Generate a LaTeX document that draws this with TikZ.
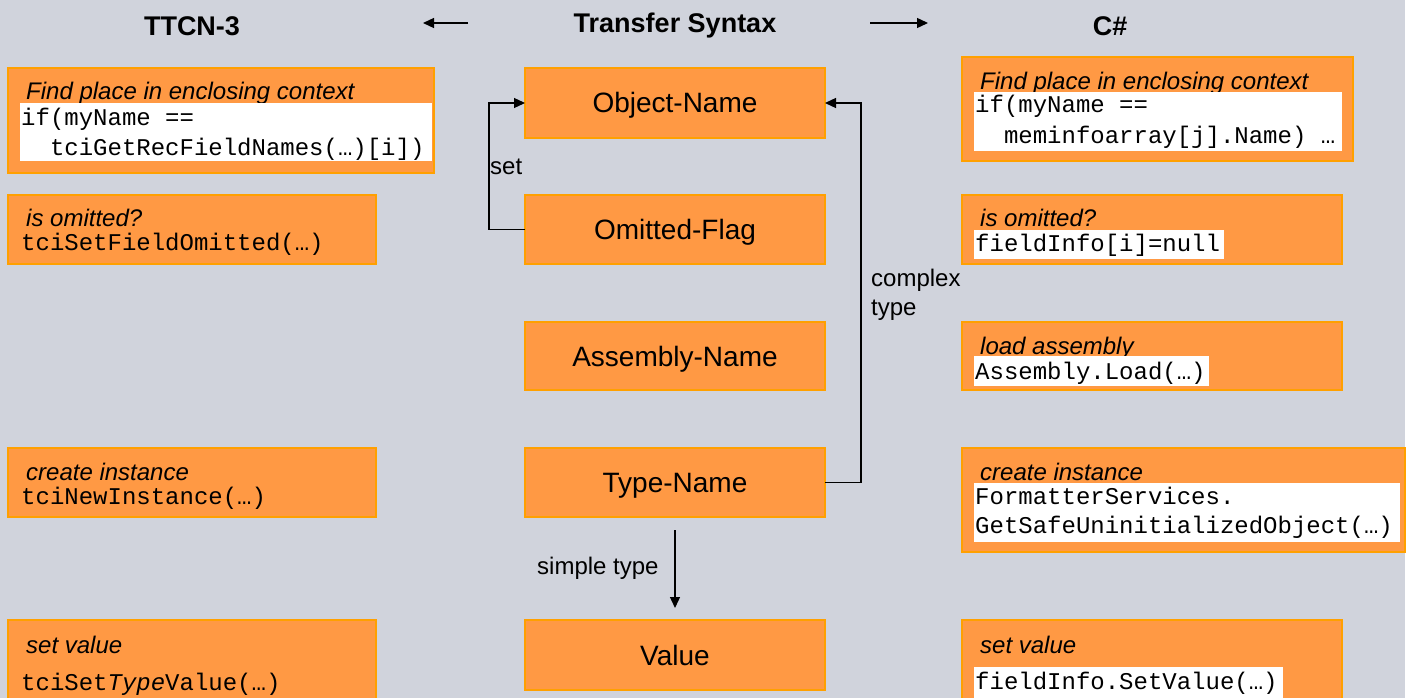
\documentclass[tikz,border=0pt]{standalone}
\usepackage{fontspec}
\setmainfont{Liberation Sans}
\setmonofont{Liberation Mono}
\usetikzlibrary{arrows.meta}
\definecolor{bg}{RGB}{208,211,220}
\definecolor{ofill}{RGB}{255,153,68}
\definecolor{oline}{RGB}{255,160,0}
\tikzset{
 obox/.style={draw=oline, line width=1.2pt, fill=ofill, anchor=north west, inner sep=0pt, outer sep=0pt},
 wbox/.style={fill=white, draw=none, anchor=north west, inner sep=0pt, outer sep=0pt},
 lab/.style={anchor=base west, inner sep=0pt, font=\fontsize{24}{29}\selectfont\itshape},
 code/.style={anchor=base west, inner sep=0pt, font=\fontsize{24}{29}\selectfont\ttfamily},
 tsbox/.style={obox, minimum width=300pt, minimum height=70pt, text height=20pt, text depth=0pt, font=\fontsize{28}{32}\selectfont},
 hdr/.style={font=\fontsize{27}{30}\selectfont\bfseries, inner sep=0pt},
 arr/.style={line width=1.3pt, -{Triangle[length=11pt,width=10pt]}},
 txt/.style={font=\fontsize{24}{29}\selectfont, inner sep=0pt},
}
\begin{document}
\begin{tikzpicture}[x=1pt,y=-1pt]
\useasboundingbox (0,0) rectangle (1410,698);
\fill[bg] (0,0) rectangle (1405,698);
\fill[white] (1405,0) rectangle (1410,698);

% headers
\node[hdr] (hT) at (192,26) {TTCN-3};
\node[hdr] (hX) at (675,26) {Transfer Syntax};
\node[hdr] (hC) at (1110,26) {C\#};
\coordinate (la) at (468,23);
\coordinate (lb) at (423,23);
\coordinate (ra) at (870,23);
\coordinate (rb) at (928,23);
\draw[arr] (la) -- (lb);
\draw[arr] (ra) -- (rb);

% center column
\node[tsbox] (obj) at (525,68) {Object-Name};
\node[tsbox, minimum height=69pt] (omit) at (525,195) {Omitted-Flag};
\node[tsbox, minimum height=68pt] (asm) at (525,322) {Assembly-Name};
\node[tsbox, minimum height=69pt] (type) at (525,448) {Type-Name};
\node[tsbox] (val) at (525,620) {Value};

\draw[arr] (omit.west) -- ++(-36,0) |- (obj.west);
\node[txt, anchor=west] (lset) at (490,167) {set};
\draw[arr] (type.east) -- ++(36,0) |- (obj.east);
\node[txt, anchor=west, align=left] (lcx) at (871,294.5) {complex\\type};
\draw[arr] ([yshift=-13pt]type.south) -- ([yshift=12pt]val.north);
\node[txt, anchor=west] (lsim) at (537,568) {simple type};

% left column (TTCN-3)
\node[obox, minimum width=426pt, minimum height=105pt] (l1) at (8,68) {};
\node[lab] (l1a) at (26,100) {Find place in enclosing context};
\node[wbox, minimum width=412pt, minimum height=58pt] (l1w) at (20,103) {};
\node[code] (l1b) at (21,126) {if(myName ==};
\node[code] (l1c) at (21,155) {\ \ tciGetRecFieldNames(…)[i])};

\node[obox, minimum width=368pt, minimum height=69pt] (l2) at (8,195) {};
\node[lab] (l2a) at (26,226) {is omitted?};
\node[code] (l2b) at (21,250) {tciSetFieldOmitted(…)};

\node[obox, minimum width=368pt, minimum height=69pt] (l3) at (8,448) {};
\node[lab] (l3a) at (26,480) {create instance};
\node[code] (l3b) at (21,504) {tciNewInstance(…)};

\node[obox, minimum width=368pt, minimum height=82pt] (l4) at (8,620) {};
\node[lab] (l4a) at (26,653) {set value};
\node[code] (l4b) at (21,690) {tciSet\textit{Type}Value(…)};

% right column (C#)
\node[obox, minimum width=391pt, minimum height=104pt] (r1) at (962,57) {};
\node[lab] (r1a) at (980,90) {Find place in enclosing context};
\node[wbox, minimum width=368pt, minimum height=59pt] (r1w) at (974,92) {};
\node[code] (r1b) at (975,113) {if(myName ==};
\node[code] (r1c) at (975,143) {\ \ meminfoarray[j].Name) …};

\node[obox, minimum width=380pt, minimum height=69pt] (r2) at (962,195) {};
\node[lab] (r2a) at (980,226) {is omitted?};
\node[wbox, minimum width=250pt, minimum height=29pt] (r2w) at (974,230) {};
\node[code] (r2b) at (975,251) {fieldInfo[i]=null};

\node[obox, minimum width=380pt, minimum height=68pt] (r3) at (962,322) {};
\node[lab] (r3a) at (980,354) {load assembly};
\node[wbox, minimum width=235pt, minimum height=30pt] (r3w) at (974,356) {};
\node[code] (r3b) at (975,379) {Assembly.Load(…)};

\node[obox, minimum width=443pt, minimum height=104pt] (r4) at (962,448) {};
\node[lab] (r4a) at (980,480) {create instance};
\node[wbox, minimum width=426pt, minimum height=59pt] (r4w) at (974,483) {};
\node[code] (r4b) at (975,504) {FormatterServices.};
\node[code] (r4c) at (975,533) {GetSafeUninitializedObject(…)};

\node[obox, minimum width=380pt, minimum height=82pt] (r5) at (962,620) {};
\node[lab] (r5a) at (980,653) {set value};
\node[wbox, minimum width=309pt, minimum height=33pt] (r5w) at (974,667) {};
\node[code] (r5b) at (975,689) {fieldInfo.SetValue(…)};
\end{tikzpicture}
\end{document}
